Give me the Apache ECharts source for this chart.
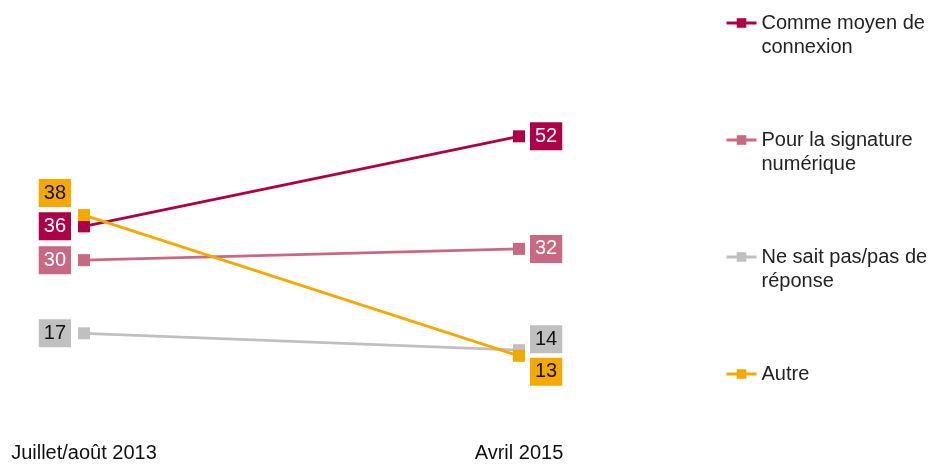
<!DOCTYPE html>
<html>
<head>
<meta charset="utf-8">
<script src="https://cdn.jsdelivr.net/npm/echarts@6/dist/echarts.min.js"></script>
<style>
  html, body { margin: 0; padding: 0; background: #fff; }
  #chart { width: 929px; height: 464px; }
</style>
</head>
<body>
<div id="chart"></div>
<script>
const categories = ['Juillet/août 2013', 'Avril 2015']
const seriesNames = ['Comme moyen de connexion', 'Pour la signature numérique', 'Ne sait pas/pas de réponse', 'Autre']
// blank first line keeps the legend icon aligned with the first text line
const legendLabels = [' \nComme moyen de\nconnexion', ' \nPour la signature\nnumérique', ' \nNe sait pas/pas de\nréponse', ' \nAutre\n ']
const connexion = [36, 52]
const signature = [30, 32]
const nsp = [17, 14]
const autre = [38, 13]

const colors = ['#ad0046', '#c96883', '#c0c0c0', '#f5a800']
const labelText = ['#fff', '#fff', '#111', '#111']
const fontFamily = '"Liberation Sans", Arial, sans-serif'

const chart = echarts.init(document.getElementById('chart'))

function makeSeries(idx, values, offsets) {
  return {
    name: seriesNames[idx],
    type: 'line',
    data: values.map((v, i) => ({
      value: v,
      label: {
        position: i === 0 ? 'left' : 'right',
        distance: i === 0 ? 7 : 5,
        offset: offsets[i]
      }
    })),
    symbol: 'rect',
    symbolSize: 12,
    lineStyle: { width: 2.8, color: colors[idx] },
    itemStyle: { color: colors[idx] },
    label: {
      show: true,
      color: labelText[idx],
      backgroundColor: colors[idx],
      fontFamily: fontFamily,
      fontSize: 20,
      lineHeight: 20,
      padding: [4, 5, 4, 5]
    },
    emphasis: { disabled: true },
    animation: false
  }
}

chart.setOption({
  textStyle: { fontFamily: fontFamily },
  grid: {
    left: 84,
    right: 410,
    top: 35,
    bottom: 35
  },
  legend: {
    orient: 'vertical',
    left: 725,
    top: -13,
    padding: 0,
    itemWidth: 30,
    itemHeight: 12,
    itemGap: 45,
    lineStyle: { width: 3 },
    formatter: name => legendLabels[seriesNames.indexOf(name)],
    textStyle: {
      color: '#222',
      fontSize: 20,
      lineHeight: 24,
      fontFamily: fontFamily
    },
    data: seriesNames
  },
  xAxis: {
    type: 'category',
    data: categories,
    boundaryGap: false,
    axisLine: { show: false },
    axisTick: { show: false },
    axisLabel: {
      color: '#111',
      fontSize: 20,
      margin: 14,
      fontFamily: fontFamily
    },
    splitLine: { show: false }
  },
  yAxis: {
    type: 'value',
    min: 0,
    max: 70,
    show: false
  },
  series: [
    makeSeries(0, connexion, [[0, 0], [0, 0]]),
    makeSeries(1, signature, [[0, 0], [0, 0]]),
    makeSeries(2, nsp, [[0, 0], [0, -11]]),
    makeSeries(3, autre, [[0, -22], [0, 16]])
  ]
})
</script>
</body>
</html>
